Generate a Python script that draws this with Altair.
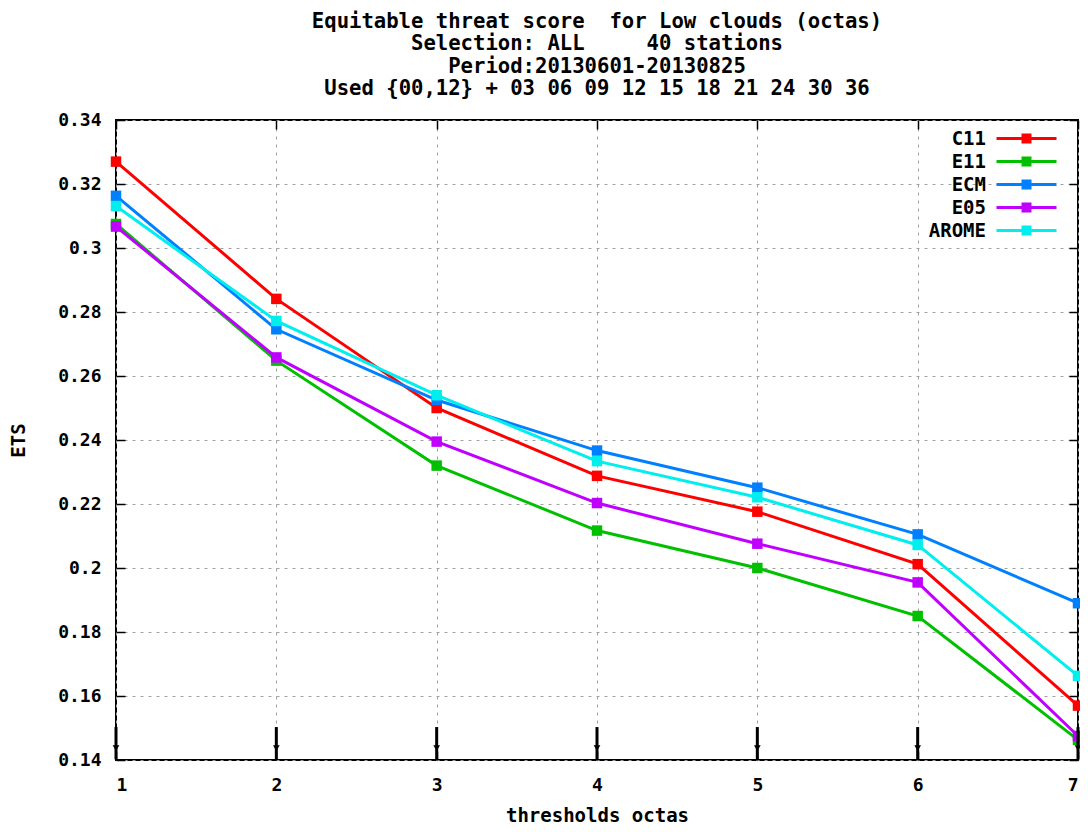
import altair as alt
import pandas as pd

thresholds = [1, 2, 3, 4, 5, 6, 7]
series_names = ["C11", "E11", "ECM", "E05", "AROME"]
series_colors = ["#ff0000", "#00c000", "#0080ff", "#c000ff", "#00eeee"]
C11 = [0.3270, 0.2841, 0.2500, 0.2288, 0.2176, 0.2012, 0.1570]
E11 = [0.3075, 0.2648, 0.2320, 0.2117, 0.2000, 0.1850, 0.1463]
ECM = [0.3163, 0.2746, 0.2525, 0.2367, 0.2251, 0.2105, 0.1890]
E05 = [0.3067, 0.2658, 0.2395, 0.2203, 0.2076, 0.1955, 0.1475]
AROME = [0.3131, 0.2772, 0.2540, 0.2334, 0.2221, 0.2072, 0.1663]
y_ticks = [0.14, 0.16, 0.18, 0.20, 0.22, 0.24, 0.26, 0.28, 0.30, 0.32, 0.34]
arrow_top = [0.1503] * 7
arrow_bottom = [0.1402] * 7
arrow_head = [0.1437] * 7

NB = "\u00a0"
title_lines = [
    "Equitable threat score" + NB * 2 + "for Low clouds (octas)",
    "Selection: ALL" + NB * 5 + "40 stations",
    "Period:20130601-20130825",
    "Used {00,12} + 03 06 09 12 15 18 21 24 30 36",
]

FONT = "DejaVu Sans Mono"

rows = []
for name, vals in zip(series_names, [C11, E11, ECM, E05, AROME]):
    for x, v in zip(thresholds, vals):
        rows.append({"x": x, "ets": v, "model": name})
df = pd.DataFrame(rows)
arrows = pd.DataFrame({"x": thresholds, "top": arrow_top, "bottom": arrow_bottom, "head": arrow_head})

xs = alt.Scale(domain=[1, 7], nice=False, zero=False)
ys = alt.Scale(domain=[0.14, 0.34], nice=False, zero=False)

legend_path = "M-3,0L3,0M-0.5,-0.36L0.5,-0.36M-0.5,-0.12L0.5,-0.12M-0.5,0.12L0.5,0.12M-0.5,0.36L0.5,0.36"

color = alt.Color(
    "model:N",
    scale=alt.Scale(domain=series_names, range=series_colors),
    legend=alt.Legend(
        title=None,
        orient="none",
        legendX=899,
        legendY=7,
        symbolType=legend_path,
        symbolSize=400,
        symbolStrokeWidth=3,
        labelAlign="right",
        labelOffset=alt.ExprRef("-52"),
        labelFont=FONT,
        labelFontWeight="bold",
        labelFontSize=19,
        labelColor="black",
        rowPadding=1,
    ),
)

x_main = alt.X("x:Q", scale=xs, title="thresholds octas",
               axis=alt.Axis(values=thresholds, format="d", grid=True, tickSize=0,
                             labelPadding=16, titlePadding=12, domain=False))
y_main = alt.Y("ets:Q", scale=ys, title="ETS",
               axis=alt.Axis(values=y_ticks, labelExpr="format(datum.value, '.2~f')",
                             grid=True, tickSize=0, labelPadding=15, titlePadding=29,
                             domain=False))

lines = alt.Chart(df).mark_line(strokeWidth=3, clip=False).encode(
    x=x_main, y=y_main, color=color, order=alt.Order("x:Q")
)
points = alt.Chart(df).mark_point(shape="square", filled=True, size=110, opacity=1, clip=False).encode(
    x=alt.X("x:Q", scale=xs, axis=None), y=alt.Y("ets:Q", scale=ys, axis=None),
    color=alt.Color("model:N", scale=alt.Scale(domain=series_names, range=series_colors), legend=None),
)

arrow_rules = alt.Chart(arrows).mark_rule(color="black", strokeWidth=3).encode(
    x=alt.X("x:Q", scale=xs, axis=None), y=alt.Y("top:Q", scale=ys, axis=None), y2="bottom:Q"
)
arrow_heads = alt.Chart(arrows).mark_point(shape="triangle-down", filled=True, color="black",
                                           size=45, opacity=1).encode(
    x=alt.X("x:Q", scale=xs, axis=None), y=alt.Y("head:Q", scale=ys, axis=None)
)

tick_axis_common = dict(labels=False, grid=False, domain=False, tickSize=9, tickWidth=1.5,
                        tickColor="black", title=None, offset=-9)
ticks_lb = alt.Chart(df).mark_point(opacity=0).encode(
    x=alt.X("x:Q", scale=xs, axis=alt.Axis(orient="bottom", values=thresholds, **tick_axis_common)),
    y=alt.Y("ets:Q", scale=ys, axis=alt.Axis(orient="left", values=y_ticks, **tick_axis_common)),
)
ticks_rt = alt.Chart(df).mark_point(opacity=0).encode(
    x=alt.X("x:Q", scale=xs, axis=alt.Axis(orient="top", values=thresholds, **tick_axis_common)),
    y=alt.Y("ets:Q", scale=ys, axis=alt.Axis(orient="right", values=y_ticks, **tick_axis_common)),
)

chart = alt.layer(lines, points, arrow_rules, arrow_heads, ticks_lb, ticks_rt).resolve_axis(
    x="independent", y="independent"
).properties(
    width=962,
    height=640,
    background="white",
    autosize=alt.AutoSizeParams(type="none"),
    padding={"left": 108, "top": 112, "right": 2, "bottom": 64},
    title=alt.TitleParams(text=title_lines, font=FONT, fontWeight="bold", fontSize=20.6,
                          lineHeight=22.5, anchor="middle", offset=11, color="black"),
).configure_view(
    stroke="black", strokeWidth=2
).configure_axis(
    labelFont=FONT, labelFontWeight="bold", labelFontSize=18, labelColor="black",
    titleFont=FONT, titleFontWeight="bold", titleFontSize=19, titleColor="black",
    gridColor="#a0a0a0", gridDash=[3, 5], gridWidth=1, gridOpacity=1,
)

chart.save("out.html", embed_options={"renderer": "svg", "actions": False})
